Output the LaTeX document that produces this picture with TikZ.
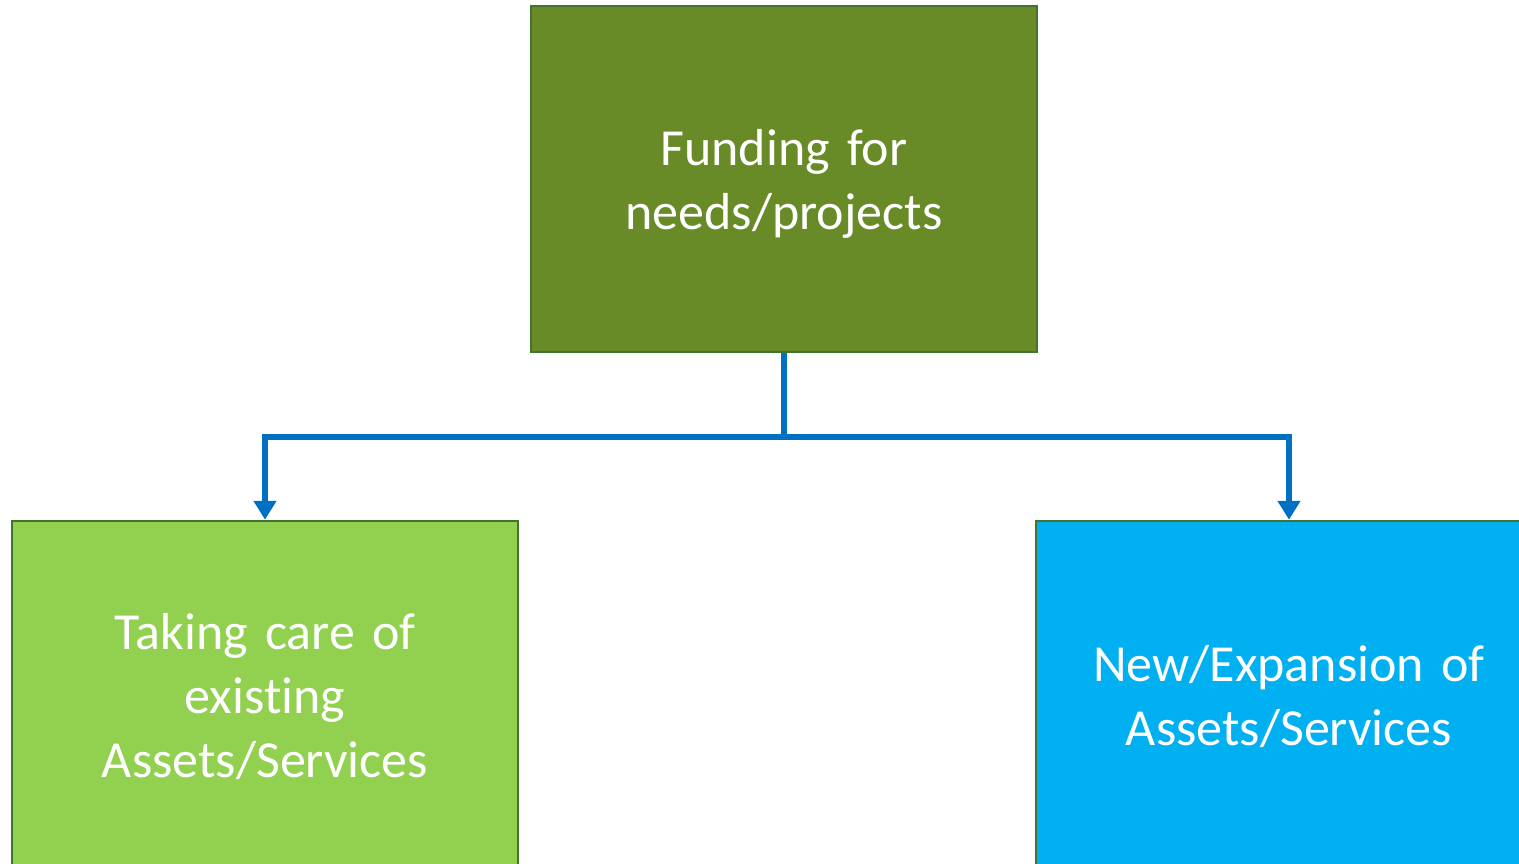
\documentclass[tikz,border=0pt]{standalone}
\usepackage{fontspec}
\setmainfont{Carlito}[Ligatures=NoCommon]
\usetikzlibrary{arrows.meta}
\definecolor{topgreen}{HTML}{688A27}
\definecolor{ltgreen}{HTML}{92D050}
\definecolor{skyblue}{HTML}{00B0F0}
\definecolor{edgegreen}{HTML}{41752F}
\definecolor{linkblue}{HTML}{0070C0}
\tikzset{
  boxnode/.style={draw=edgegreen, line width=2.5pt, minimum width=506pt, minimum height=346pt,
    text width=490pt, align=center, text=white, inner sep=0pt,
    font=\fontsize{52}{64}\selectfont},
  link/.style={draw=linkblue, line width=6.5pt, -{Triangle[length=19pt,width=22pt]}}
}
\begin{document}
\begin{tikzpicture}[x=1pt,y=-1pt]
\useasboundingbox (0,0) rectangle (1519,864);
\clip (0,0) rectangle (1519,864);
\node[boxnode, fill=topgreen] (top) at (784,179) {};
\node[boxnode, fill=ltgreen] (left) at (265,694) {};
\node[boxnode, fill=skyblue] (right) at (1289,694) {};
\node[boxnode, draw=none, yshift=-5pt] (toptext) at (top.center) {Funding for\\needs/projects};
\node[boxnode, draw=none, yshift=-3pt] (lefttext) at (left.center) {Taking care of\\existing\\Assets/Services};
\node[boxnode, draw=none, yshift=-3pt] (righttext) at (right.center) {New/Expansion of\\Assets/Services};
\coordinate (mid) at (784,437);
\draw[draw=linkblue, line width=6.5pt] (top.south) -- (mid);
\draw[link] (mid) -| (left.north);
\draw[link] (mid) -| (right.north);
\end{tikzpicture}
\end{document}
